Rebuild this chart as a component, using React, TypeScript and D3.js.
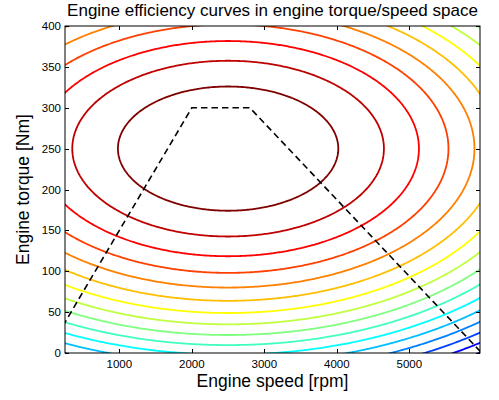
import React, { useEffect, useRef } from "react";
import * as d3 from "d3";

// axis ticks
const speedTicks = [1000, 2000, 3000, 4000, 5000];
const torqueTicks = [0, 50, 100, 150, 200, 250, 300, 350, 400];

// efficiency map: peak at 2500 rpm / 250 Nm
const effCenter = [2500, 250];
const effSpread = [1520, 76];
const effPeak = 40;
const effLevels = [39, 38, 37, 36, 35, 34, 33, 32, 31, 30, 29, 28, 27, 26, 25, 24, 23];

// max torque line
const maxTorqueSpeed = [0, 2000, 2800, 6000];
const maxTorqueValue = [0, 300, 300, 0];

const W = 499, H = 400;
const FONT = "'Liberation Sans', Arial, Helvetica, sans-serif";

function jet(t: number) {
  const c = (v: number) => Math.round(255 * Math.max(0, Math.min(1, v)));
  const r = c(1.5 - Math.abs(4 * t - 3));
  const g = c(1.5 - Math.abs(4 * t - 2));
  const b = c(1.5 - Math.abs(4 * t - 1));
  return `rgb(${r},${g},${b})`;
}

export default function App() {
  const ref = useRef<SVGSVGElement>(null);

  useEffect(() => {
    const svg = d3.select(ref.current);
    svg.selectAll("*").remove();

    const left = 65, right = 480, top = 26, bottom = 353;

    const x = d3.scaleLinear().domain([250, 5975]).range([left, right]);
    const y = d3.scaleLinear().domain([0, 400]).range([bottom, top]);

    svg.append("defs")
      .append("clipPath")
      .attr("id", "plotclip")
      .append("rect")
      .attr("x", left)
      .attr("y", top)
      .attr("width", right - left)
      .attr("height", bottom - top);

    // efficiency grid, a bit larger than the axes so contours don't close on the edge
    const s0 = 0, s1 = 6400, t0 = -60, t1 = 460;
    const nx = 320, ny = 260;
    const ds = (s1 - s0) / nx, dt = (t1 - t0) / ny;
    const values = new Array(nx * ny);
    for (let j = 0; j < ny; j++) {
      for (let i = 0; i < nx; i++) {
        const s = s0 + (i + 0.5) * ds;
        const t = t0 + (j + 0.5) * dt;
        const a = (s - effCenter[0]) / effSpread[0];
        const b = (t - effCenter[1]) / effSpread[1];
        values[i + j * nx] = effPeak - a * a - b * b;
      }
    }

    const contours = d3.contours().size([nx, ny]).thresholds(effLevels)(values);

    const proj = d3.geoTransform({
      point(px: number, py: number) {
        this.stream.point(x(s0 + px * ds), y(t0 + py * dt));
      },
    });
    const path = d3.geoPath(proj);

    const lo = d3.min(effLevels)!, hi = d3.max(effLevels)!;
    const color = (v: number) => jet((v - lo) / (hi - lo));

    const plot = svg.append("g").attr("clip-path", "url(#plotclip)");

    plot.selectAll("path.contour")
      .data(contours)
      .enter()
      .append("path")
      .attr("class", "contour")
      .attr("d", (d: any) => path(d))
      .attr("fill", "none")
      .attr("stroke", (d: any) => color(d.value))
      .attr("stroke-width", 1.8);

    const line = d3.line<number>()
      .x((_, i) => x(maxTorqueSpeed[i]))
      .y((v) => y(v));

    plot.append("path")
      .attr("d", line(maxTorqueValue))
      .attr("fill", "none")
      .attr("stroke", "#000")
      .attr("stroke-width", 1.6)
      .attr("stroke-dasharray", "6.5,4");

    // box
    svg.append("rect")
      .attr("x", left)
      .attr("y", top)
      .attr("width", right - left)
      .attr("height", bottom - top)
      .attr("fill", "none")
      .attr("stroke", "#000")
      .attr("stroke-width", 1);

    const tl = 4;
    const ticks = svg.append("g").attr("stroke", "#000").attr("stroke-width", 1);
    speedTicks.forEach((s) => {
      const px = Math.round(x(s)) + 0.5;
      ticks.append("line").attr("x1", px).attr("x2", px).attr("y1", bottom).attr("y2", bottom - tl);
      ticks.append("line").attr("x1", px).attr("x2", px).attr("y1", top).attr("y2", top + tl);
    });
    torqueTicks.forEach((t) => {
      const py = Math.round(y(t)) + 0.5;
      ticks.append("line").attr("x1", left).attr("x2", left + tl).attr("y1", py).attr("y2", py);
      ticks.append("line").attr("x1", right).attr("x2", right - tl).attr("y1", py).attr("y2", py);
    });

    const labels = svg.append("g").attr("font-family", FONT).attr("fill", "#000");

    labels.selectAll("text.xt")
      .data(speedTicks)
      .enter()
      .append("text")
      .attr("x", (d) => x(d))
      .attr("y", bottom + 15)
      .attr("text-anchor", "middle")
      .attr("font-size", 11.5)
      .text((d) => d);

    labels.selectAll("text.yt")
      .data(torqueTicks)
      .enter()
      .append("text")
      .attr("x", left - 4)
      .attr("y", (d) => y(d) + 4)
      .attr("text-anchor", "end")
      .attr("font-size", 11.5)
      .text((d) => d);

    labels.append("text")
      .attr("x", (left + right) / 2)
      .attr("y", 15.5)
      .attr("text-anchor", "middle")
      .attr("font-size", 17)
      .text("Engine efficiency curves in engine torque/speed space");

    labels.append("text")
      .attr("x", (left + right) / 2)
      .attr("y", 387)
      .attr("text-anchor", "middle")
      .attr("font-size", 17.5)
      .text("Engine speed [rpm]");

    labels.append("text")
      .attr("transform", `translate(29, ${(top + bottom) / 2}) rotate(-90)`)
      .attr("text-anchor", "middle")
      .attr("font-size", 17.5)
      .text("Engine torque [Nm]");
  }, []);

  return (
    <svg
      ref={ref}
      width={W}
      height={H}
      style={{ position: "absolute", left: 0, top: 0, background: "#fff" }}
    />
  );
}
